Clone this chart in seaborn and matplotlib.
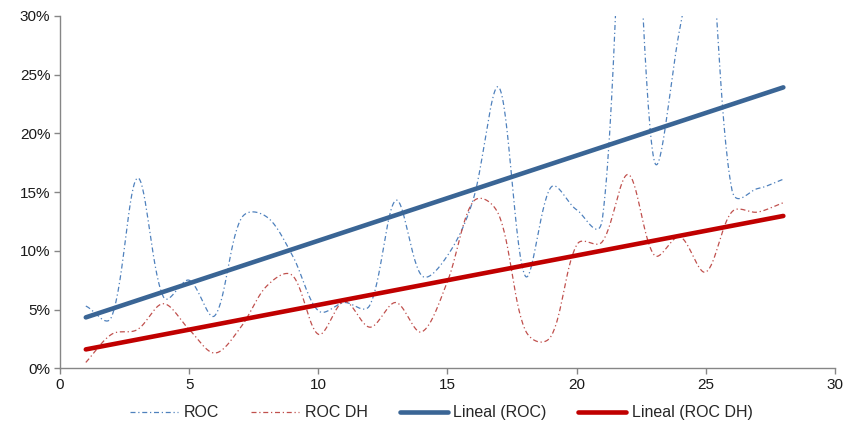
import numpy as np
import matplotlib
matplotlib.use("Agg")
import matplotlib.pyplot as plt
from matplotlib.lines import Line2D
from matplotlib.ticker import PercentFormatter
import seaborn as sns

# Period index and the two ratio series (in percent)
periods = list(range(1, 29))
roc = [5.3, 4.4, 16.2, 6.1, 7.5, 4.5, 12.7, 12.9, 9.6, 4.9,
       5.6, 5.4, 14.3, 7.9, 9.6, 14.4, 23.9, 7.9, 15.4, 13.5,
       12.8, 48.2, 17.7, 29.0, 39.2, 15.3, 15.3, 16.1]
roc_dh = [0.5, 2.9, 3.3, 5.5, 3.3, 1.3, 3.5, 7.0, 7.9, 2.9,
          5.7, 3.5, 5.6, 3.1, 7.4, 14.2, 13.0, 3.3, 2.7, 10.5,
          10.8, 16.5, 9.65, 11.2, 8.2, 13.3, 13.3, 14.1]
series_labels = ["ROC", "ROC DH", "Lineal (ROC)", "Lineal (ROC DH)"]

x_ticks = [0, 5, 10, 15, 20, 25, 30]
y_ticks = [0, 5, 10, 15, 20, 25, 30]

C_ROC = "#4f81bd"
C_DH = "#c0504d"
C_TREND_ROC = "#3a6595"
C_TREND_DH = "#c00000"
GREY = "#868686"

# screen scale of one data unit (px per x unit, px per percent point)
SCALE_X, SCALE_Y = 25.8, 11.74


def smooth(x, y, n=30):
    """Smoothed line: cubic Bezier segments whose control arms follow the
    neighbouring chord, shared between the two sides by on-screen length."""
    p = np.column_stack([np.asarray(x, float) * SCALE_X,
                         np.asarray(y, float) * SCALE_Y])
    m = len(p)
    seg = np.sqrt(np.hypot(*np.diff(p, axis=0).T))
    c_out, c_in = np.empty_like(p), np.empty_like(p)
    for i in range(m):
        d = p[min(i + 1, m - 1)] - p[max(i - 1, 0)]
        l_prev = seg[i - 1] if i > 0 else 0.0
        l_next = seg[i] if i < m - 1 else 0.0
        tot = l_prev + l_next
        c_out[i] = p[i] + d * (l_next / tot) / 3.0
        c_in[i] = p[i] - d * (l_prev / tot) / 3.0
    t = np.linspace(0, 1, n, endpoint=False)[:, None]
    pts = []
    for i in range(m - 1):
        a, b, c, e = p[i], c_out[i], c_in[i + 1], p[i + 1]
        pts.append((1 - t) ** 3 * a + 3 * (1 - t) ** 2 * t * b
                   + 3 * (1 - t) * t ** 2 * c + t ** 3 * e)
    pts.append(p[-1:])
    pts = np.vstack(pts)
    return pts[:, 0] / SCALE_X, pts[:, 1] / SCALE_Y


sns.set_theme(style="white")
plt.rcParams["font.family"] = ["Liberation Sans", "DejaVu Sans"]

fig = plt.figure(figsize=(8.46, 4.23), dpi=100)
ax = fig.add_axes([0.0709, 0.1293, 0.9161, 0.8329])

dashdot = (0, (4, 2.2, 1, 2.2))

sx, sy = smooth(periods, roc)
sns.lineplot(x=sx, y=sy, ax=ax, color=C_ROC, lw=0.9, linestyle=dashdot,
             sort=False, estimator=None, legend=False)
sx, sy = smooth(periods, roc_dh)
sns.lineplot(x=sx, y=sy, ax=ax, color=C_DH, lw=0.9, linestyle=dashdot,
             sort=False, estimator=None, legend=False)

sns.regplot(x=periods, y=roc, ax=ax, scatter=False, ci=None, truncate=True,
            color=C_TREND_ROC, line_kws=dict(lw=3.3, solid_capstyle="round"))
sns.regplot(x=periods, y=roc_dh, ax=ax, scatter=False, ci=None, truncate=True,
            color=C_TREND_DH, line_kws=dict(lw=3.3, solid_capstyle="round"))

ax.set_xlim(0, 30)
ax.set_ylim(0, 30)
ax.set_xticks(x_ticks)
ax.set_yticks(y_ticks)
ax.yaxis.set_major_formatter(PercentFormatter(xmax=100, decimals=0))
ax.set_xlabel("")
ax.set_ylabel("")

for side in ("top", "right"):
    ax.spines[side].set_visible(False)
for side in ("left", "bottom"):
    ax.spines[side].set_color(GREY)
    ax.spines[side].set_linewidth(1.0)

ax.tick_params(axis="both", which="major", bottom=True, left=True,
               direction="out", length=4, width=1, color=GREY,
               labelsize=11, labelcolor="#1a1a1a", pad=3)

handles = [
    Line2D([], [], color=C_ROC, lw=0.9, linestyle=dashdot),
    Line2D([], [], color=C_DH, lw=0.9, linestyle=dashdot),
    Line2D([], [], color=C_TREND_ROC, lw=3.3, solid_capstyle="round"),
    Line2D([], [], color=C_TREND_DH, lw=3.3, solid_capstyle="round"),
]
fig.legend(handles, series_labels, loc="center", bbox_to_anchor=(0.522, 0.024),
           ncol=4, frameon=False, fontsize=11.5, handlelength=3.0,
           handletextpad=0.35, columnspacing=2.0)

fig.savefig("out.png", dpi=100)
